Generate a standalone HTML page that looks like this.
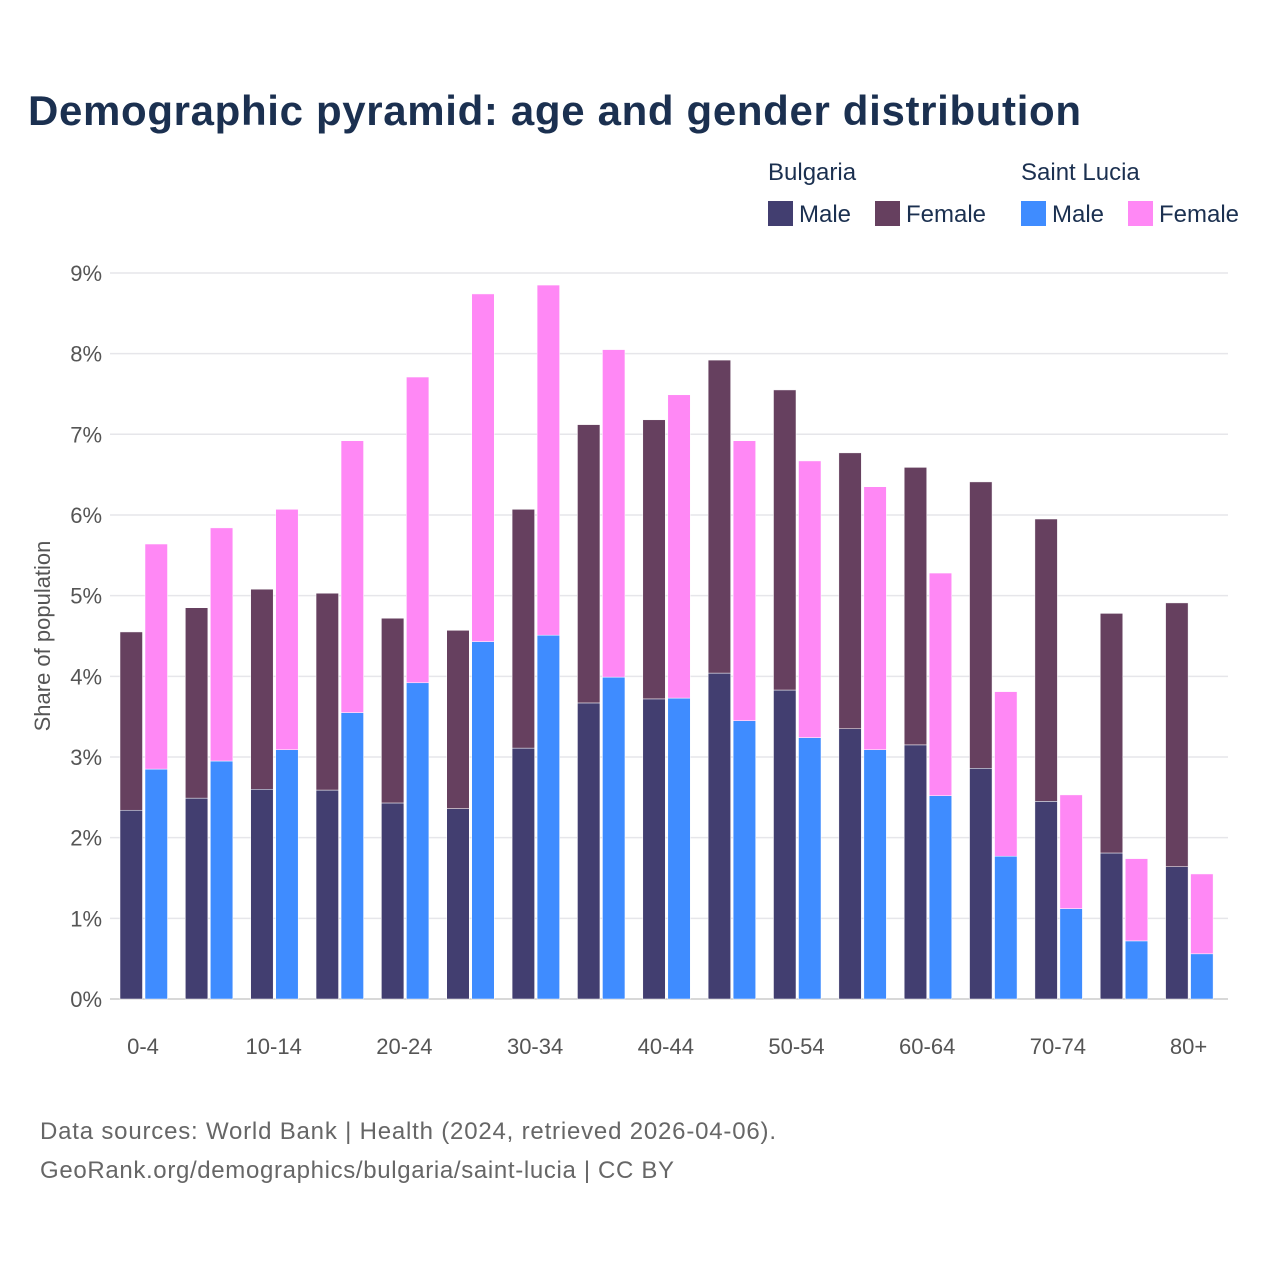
<!DOCTYPE html>
<html><head><meta charset="utf-8"><style>
body{margin:0;background:#fff;font-family:"Liberation Sans",sans-serif}
</style></head><body>
<svg id="c" width="1280" height="1280" xmlns="http://www.w3.org/2000/svg">
<rect width="1280" height="1280" fill="#fff"/>
<text x="28" y="125" font-size="42" font-weight="bold" fill="#1b3050" textLength="1053">Demographic pyramid: age and gender distribution</text>
<g font-size="24" fill="#1b3050">
<text x="768" y="180">Bulgaria</text>
<text x="1021" y="180">Saint Lucia</text>
<g><rect x="768" y="201" width="25" height="25" fill="#423e70"/><text x="799" y="222">Male</text></g>
<g><rect x="875" y="201" width="25" height="25" fill="#66405f"/><text x="906" y="222">Female</text></g>
<g><rect x="1021" y="201" width="25" height="25" fill="#3f8cff"/><text x="1052" y="222">Male</text></g>
<g><rect x="1128" y="201" width="25" height="25" fill="#ff88f5"/><text x="1159" y="222">Female</text></g>
</g>
<g id="grid"></g><g id="bars"></g><g id="xl"></g>
<text transform="translate(50,636) rotate(-90)" text-anchor="middle" font-size="22" fill="#555">Share of population</text>
<text x="40" y="1139" font-size="24" fill="#666" textLength="736">Data sources: World Bank | Health (2024, retrieved 2026-04-06).</text>
<text x="40" y="1178" font-size="24" fill="#666" textLength="634">GeoRank.org/demographics/bulgaria/saint-lucia | CC BY</text>
</svg>
<script>
const categories=["0-4","5-9","10-14","15-19","20-24","25-29","30-34","35-39","40-44","45-49","50-54","55-59","60-64","65-69","70-74","75-79","80+"];
const bgMale=[2.34,2.49,2.60,2.59,2.43,2.36,3.11,3.67,3.72,4.04,3.83,3.35,3.15,2.86,2.45,1.81,1.64];
const bgFemale=[2.21,2.36,2.48,2.44,2.29,2.21,2.96,3.45,3.46,3.88,3.72,3.42,3.44,3.55,3.50,2.97,3.27];
const lcMale=[2.85,2.95,3.09,3.55,3.92,4.43,4.51,3.99,3.73,3.45,3.24,3.09,2.52,1.77,1.12,0.72,0.56];
const lcFemale=[2.79,2.89,2.98,3.37,3.79,4.31,4.34,4.06,3.76,3.47,3.43,3.26,2.76,2.04,1.41,1.02,0.99];
const yTicks=[0,1,2,3,4,5,6,7,8,9];
const NS="http://www.w3.org/2000/svg";
const y=v=>999-v*80.67;
const gx=i=>120+i*65.35;
function mk(t,a,p){const e=document.createElementNS(NS,t);for(const k in a)e.setAttribute(k,a[k]);document.getElementById(p).appendChild(e);return e;}
yTicks.forEach(t=>{
 const l=mk('line',{x1:110,x2:1228,y1:y(t),y2:y(t),stroke:t?'#e6e6ea':'#ccc','stroke-width':1.5},'grid');
 
 
 const tx=mk('text',{x:102,y:y(t)+8,'text-anchor':'end','font-size':22,fill:'#555'},'grid');
 tx.textContent=t+'%';
 
 
});
categories.forEach((c,i)=>{
 const x=gx(i);
 const segs=[[x,0,bgMale[i],'#423e70','bar-bg-male'],[x,bgMale[i],bgFemale[i],'#66405f','bar-bg-female'],[x+25,0,lcMale[i],'#3f8cff','bar-lc-male'],[x+25,lcMale[i],lcFemale[i],'#ff88f5','bar-lc-female']];
 segs.forEach(s=>{
  const r=mk('rect',{x:s[0],y:y(s[1]+s[2]),width:22.5,height:s[2]*80.67,fill:s[3],stroke:'#fff','stroke-width':0.5},'bars');
  
  
 });
 if(i%2==0){
  const t=mk('text',{x:x+23,y:1054,'text-anchor':'middle','font-size':22,fill:'#555'},'xl');
  t.textContent=c;
  
  
 }
});
</script>
</body></html>
